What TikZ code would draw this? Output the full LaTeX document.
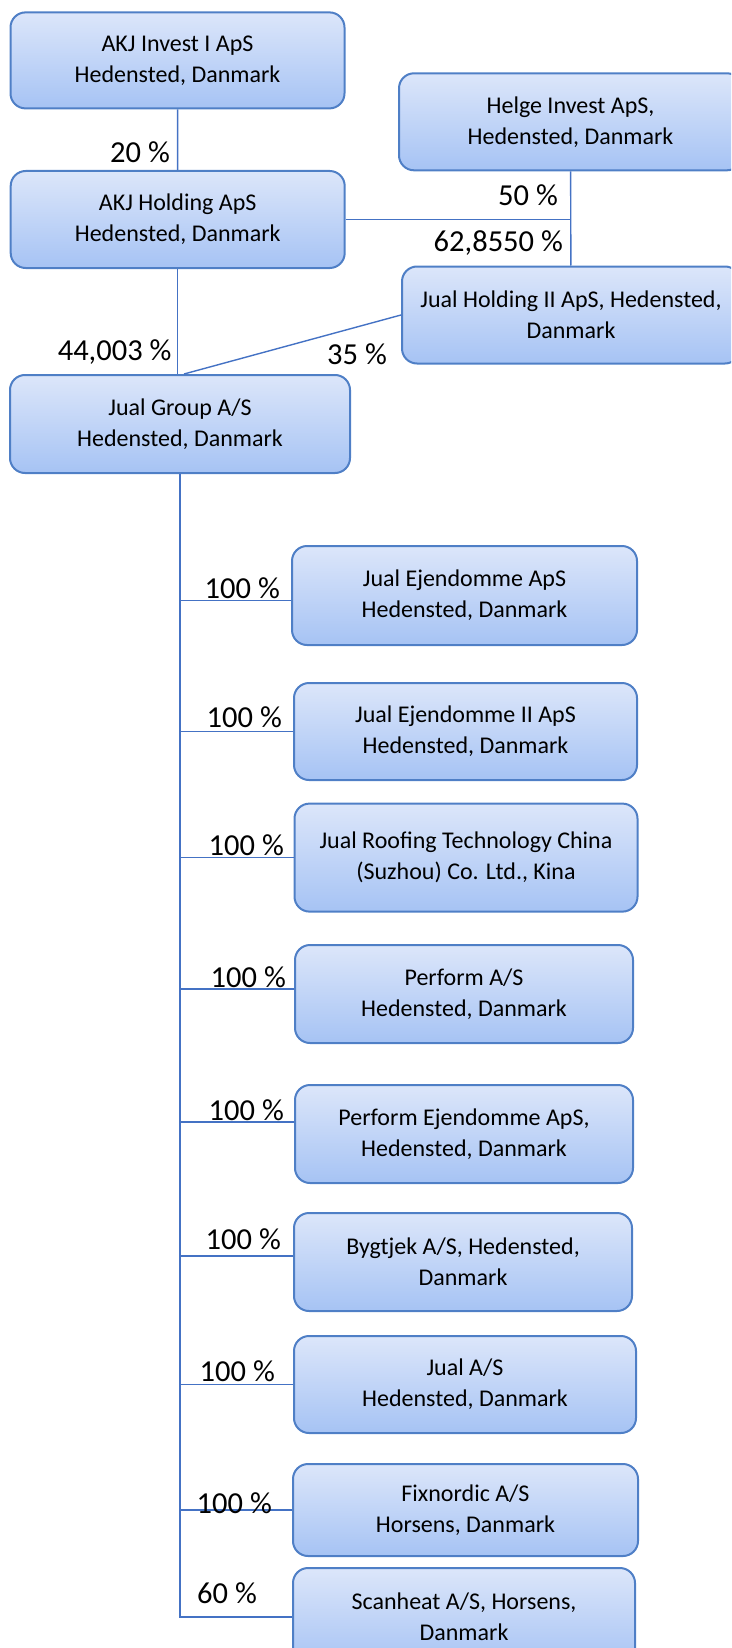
\documentclass[tikz,border=0pt]{standalone}
\usepackage{fontspec}
\setmainfont{Carlito}
\usepackage{tikz}
\usetikzlibrary{positioning,calc}
\definecolor{boxtop}{HTML}{DCE6FA}
\definecolor{boxbot}{HTML}{A6C3F4}
\definecolor{boxline}{HTML}{4F7FC6}
\definecolor{linkblue}{HTML}{4472C4}
\tikzset{
  firm/.style={draw=boxline, line width=2pt, rounded corners=15pt, top color=boxtop, bottom color=boxbot,
    align=center, inner sep=0pt, font=\fontsize{24}{31}\selectfont},
  sub/.style={firm, minimum width=343pt, minimum height=97pt},
  share/.style={anchor=east, inner sep=0pt, font=\fontsize{30.5}{35}\selectfont},
  link/.style={draw=linkblue, line width=1.4pt},
}

\begin{document}
\begin{tikzpicture}[x=1pt,y=-1pt]
        \clip (0,0) rectangle (731,1648);

        % Owners
        \node[firm, minimum width=334pt, minimum height=96pt] (akji) at (177.5,60.4) {AKJ Invest I ApS\\Hedensted, Danmark};
        \node[firm, minimum width=343pt, minimum height=97pt] (helge) at (570.5,121.8) {Helge Invest ApS,\\Hedensted, Danmark};
        \node[firm, minimum width=334pt, minimum height=97pt] (akjh) at (177.7,219.5) {AKJ Holding ApS\\Hedensted, Danmark};
        \node[firm, minimum width=338pt, minimum height=97pt] (jh2) at (571,315) {Jual Holding II ApS, Hedensted,\\Danmark};
        \node[firm, minimum width=340pt, minimum height=98pt] (grp) at (180,424) {Jual Group A/S\\Hedensted, Danmark};

        % Ownership lines
        \draw[link] (akji) -- (akjh);
        \draw[link] (helge) -- (jh2);
        \draw[link] (akjh.east) -- (akjh.east -| helge.south);
        \draw[link] (akjh) -- (akjh |- grp.north);
        \draw[link] (jh2.west) -- ([xshift=4pt]grp.north);

        \node[share] (p20) at (170,152) {20 \%};
        \node[share] (p50) at (558,195) {50 \%};
        \node[share] (p62) at (563,243) {62,8550 \%};
        \node[share] (p44) at (171.6,352) {44,003 \%};
        \node[share] (p35) at (387,354) {35 \%};

        % Subsidiaries
        \node[sub, minimum width=345pt, minimum height=99pt] (je1) at (464.5,595.5) {Jual Ejendomme ApS\\Hedensted, Danmark};
        \node[sub] (je2) at (465.5,731.5) {Jual Ejendomme II ApS\\Hedensted, Danmark};
        \node[sub, minimum height=108pt] (roof) at (466,857.6) {Jual Roofing Technology China\\(Suzhou) Co. Ltd., Kina};
        \node[sub, minimum width=338pt, minimum height=98pt] (perf) at (464,994) {Perform A/S\\Hedensted, Danmark};
        \node[sub, minimum width=338pt, minimum height=98pt] (perfej) at (464,1134) {Perform Ejendomme ApS,\\Hedensted, Danmark};
        \node[sub, minimum width=338pt, minimum height=98pt] (byg) at (463,1262) {Bygtjek A/S, Hedensted,\\Danmark};
        \node[sub, minimum width=342pt] (jual) at (465,1384.5) {Jual A/S\\Hedensted, Danmark};
        \node[sub, minimum width=345pt, minimum height=92pt] (fix) at (465.5,1510) {Fixnordic A/S\\Horsens, Danmark};
        \node[sub, minimum width=342pt, minimum height=98pt] (scan) at (464,1617) {Scanheat A/S, Horsens,\\Danmark};

        % Trunk and branches
        \draw[link] (grp.south) -- (grp.south |- scan.west) -- (scan.west);
        \draw[link] ([yshift=-5pt]je1.west) -- ([yshift=-5pt]je1.west -| grp.south);
        \draw[link] (je2.west) -- (je2.west -| grp.south);
        \draw[link] (roof.west) -- (roof.west -| grp.south);
        \draw[link] ([yshift=5pt]perf.west) -- ([yshift=5pt]perf.west -| grp.south);
        \draw[link] ([yshift=12pt]perfej.west) -- ([yshift=12pt]perfej.west -| grp.south);
        \draw[link] ([yshift=6pt]byg.west) -- ([yshift=6pt]byg.west -| grp.south);
        \draw[link] (jual.west) -- (jual.west -| grp.south);
        \draw[link] (fix.west) -- (fix.west -| grp.south);

        \node[share] (s1) at (280,588) {100 \%};
        \node[share] (s2) at (282,717) {100 \%};
        \node[share] (s3) at (284,845.5) {100 \%};
        \node[share] (s4) at (286,977) {100 \%};
        \node[share] (s5) at (284,1110) {100 \%};
        \node[share] (s6) at (281,1239) {100 \%};
        \node[share] (s7) at (275,1371) {100 \%};
        \node[share] (s8) at (272,1503) {100 \%};
        \node[share] (s9) at (257,1593) {60 \%};
    \end{tikzpicture}
\end{document}
